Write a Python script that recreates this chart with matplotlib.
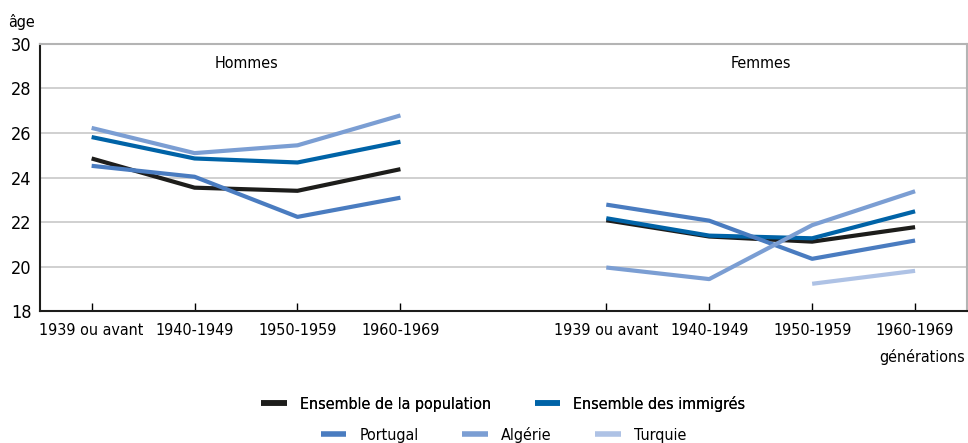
import matplotlib
matplotlib.use("Agg")
import matplotlib.pyplot as plt
from matplotlib.lines import Line2D

plt.rcParams['font.family'] = ['DejaVu Sans']
plt.rcParams['font.stretch'] = 'condensed'

generations = ["1939 ou avant", "1940-1949", "1950-1959", "1960-1969"]
pos_hommes = [0, 1, 2, 3]
pos_femmes = [5, 6, 7, 8]

# âge moyen, hommes
h_population = [24.86, 23.55, 23.41, 24.38]
h_immigres = [25.82, 24.86, 24.68, 25.61]
h_portugal = [24.53, 24.04, 22.24, 23.10]
h_algerie = [26.23, 25.10, 25.45, 26.79]

# âge moyen, femmes
f_population = [22.09, 21.36, 21.13, 21.78]
f_immigres = [22.18, 21.40, 21.28, 22.49]
f_portugal = [22.79, 22.07, 20.36, 21.18]
f_algerie = [19.97, 19.45, 21.87, 23.39]
f_turquie = [None, None, 19.24, 19.82]

series = [
    ("Ensemble de la population", "#1d1d1b", h_population, f_population),
    ("Ensemble des immigrés", "#0063a7", h_immigres, f_immigres),
    ("Portugal", "#4a7cc0", h_portugal, f_portugal),
    ("Algérie", "#7b9ed3", h_algerie, f_algerie),
    ("Turquie", "#aec2e5", None, f_turquie),
]

fig = plt.figure(figsize=(9.68, 4.43), dpi=100)
ax = fig.add_axes([0.0415, 0.297, 0.957, 0.604])

for name, color, hv, fv in series:
    if hv is not None:
        ax.plot(pos_hommes, hv, color=color, lw=3, solid_capstyle='butt', zorder=3)
    xs = [p for p, v in zip(pos_femmes, fv) if v is not None]
    ys = [v for v in fv if v is not None]
    ax.plot(xs, ys, color=color, lw=3, solid_capstyle='butt', zorder=3)

fs = 11.5
ax.set_xlim(-0.5, 8.5)
ax.set_ylim(18, 30)
ax.set_yticks(range(18, 31, 2))
ax.yaxis.grid(True, color="#c8c8c8", lw=1.2)
ax.set_axisbelow(True)
ax.tick_params(axis='y', length=0, labelsize=13, pad=6)
ax.set_xticks(pos_hommes + pos_femmes)
ax.set_xticklabels(generations + generations, fontsize=fs)
ax.tick_params(axis='x', direction='in', length=6, width=1, pad=8)

for s in ['left', 'bottom']:
    ax.spines[s].set_color("#1d1d1b")
    ax.spines[s].set_linewidth(1.5)
for s in ['top', 'right']:
    ax.spines[s].set_color("#b4b4b4")
    ax.spines[s].set_linewidth(1.5)

ax.text(1.5, 29.1, "Hommes", ha='center', va='center', fontsize=fs)
ax.text(6.5, 29.1, "Femmes", ha='center', va='center', fontsize=fs)
fig.text(0.008, 0.95, "âge", ha='left', va='center', fontsize=fs)
fig.text(0.997, 0.195, "générations", ha='right', va='center', fontsize=fs)

def handle(color):
    return Line2D([], [], color=color, lw=4, solid_capstyle='butt')

row1 = [s for s in series[:2]]
row2 = [s for s in series[2:]]
leg1 = fig.legend([handle(c) for _, c, _, _ in row1], [n for n, _, _, _ in row1],
                  loc='center', bbox_to_anchor=(0.52, 0.088), ncol=2, frameon=False,
                  fontsize=fs, handlelength=1.6, columnspacing=2.75, handletextpad=0.8)
fig.legend([handle(c) for _, c, _, _ in row2], [n for n, _, _, _ in row2],
           loc='center', bbox_to_anchor=(0.52, 0.018), ncol=3, frameon=False,
           fontsize=fs, handlelength=1.6, columnspacing=2.75, handletextpad=0.8)
fig.add_artist(leg1)

fig.savefig("out.png", dpi=100)
